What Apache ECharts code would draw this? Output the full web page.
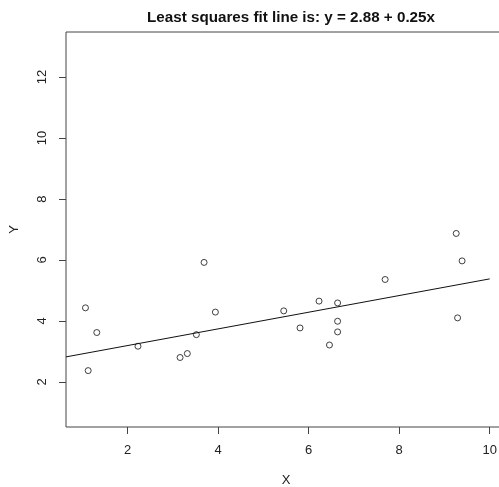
<!DOCTYPE html>
<html>
<head>
<meta charset="utf-8">
<script src="https://cdn.jsdelivr.net/npm/echarts@6/dist/echarts.min.js"></script>
<style>
  html, body { margin: 0; padding: 0; background: #fff; }
  #chart { width: 499px; height: 487px; }
</style>
</head>
<body>
<div id="chart"></div>
<script>
const xValues = [1.07, 1.32, 1.13, 2.23, 3.16, 3.32, 3.52, 3.69, 3.94, 5.45,
                 5.81, 6.23, 6.64, 6.64, 6.64, 6.46, 7.69, 9.26, 9.39, 9.29];
const yValues = [4.43, 3.62, 2.37, 3.17, 2.80, 2.93, 3.55, 5.92, 4.29, 4.33,
                 3.77, 4.65, 4.59, 3.99, 3.64, 3.21, 5.36, 6.87, 5.97, 4.10];

// fit line as drawn: two ends
const fitX = [0.64, 10];
const fitY = [2.82, 5.38];

const xTicks = [2, 4, 6, 8, 10];
const yTicks = [2, 4, 6, 8, 10, 12];

const titleText = "Least squares fit line is: y = 2.88 + 0.25x";

const font = "Liberation Sans, Arial, sans-serif";
const ink = "#222";

const chart = echarts.init(document.getElementById("chart"));

chart.setOption({
  animation: false,
  backgroundColor: "#fff",
  title: {
    text: titleText,
    left: 286,
    top: 5,
    textAlign: "center",
    textStyle: { fontFamily: font, fontSize: 15.2, fontWeight: "bold", color: "#111" },
  },
  grid: {
    left: 66,
    top: 32,
    right: -7,
    bottom: 60,
    show: true,
    borderColor: "#444",
    borderWidth: 1,
    outerBoundsMode: "none",
  },
  xAxis: {
    type: "value",
    min: 0.64,
    max: 10.36,
    name: "X",
    nameLocation: "middle",
    nameGap: 47,
    nameTextStyle: { fontFamily: font, fontSize: 13, color: ink },
    axisLine: { show: false },
    splitLine: { show: false },
    axisTick: { show: true, length: 7, customValues: xTicks, lineStyle: { color: "#444" } },
    axisLabel: { customValues: xTicks, margin: 17, fontFamily: font, fontSize: 13, color: ink },
  },
  yAxis: {
    type: "value",
    min: 0.52,
    max: 13.48,
    name: "Y",
    nameLocation: "middle",
    nameGap: 45,
    nameRotate: 90,
    nameTextStyle: { fontFamily: font, fontSize: 13, color: ink },
    axisLine: { show: false },
    splitLine: { show: false },
    axisTick: { show: true, length: 7, customValues: yTicks, lineStyle: { color: "#444" } },
    axisLabel: { customValues: yTicks, rotate: 90, margin: 17, fontFamily: font, fontSize: 13, color: ink },
  },
  series: [
    {
      type: "scatter",
      data: xValues.map((x, i) => [x, yValues[i]]),
      symbol: "circle",
      symbolSize: 6,
      itemStyle: { color: "#fff", borderColor: "#111", borderWidth: 1 },
    },
    {
      type: "line",
      data: fitX.map((x, i) => [x, fitY[i]]),
      showSymbol: false,
      lineStyle: { color: "#111", width: 1 },
    },
  ],
});
</script>
</body>
</html>
